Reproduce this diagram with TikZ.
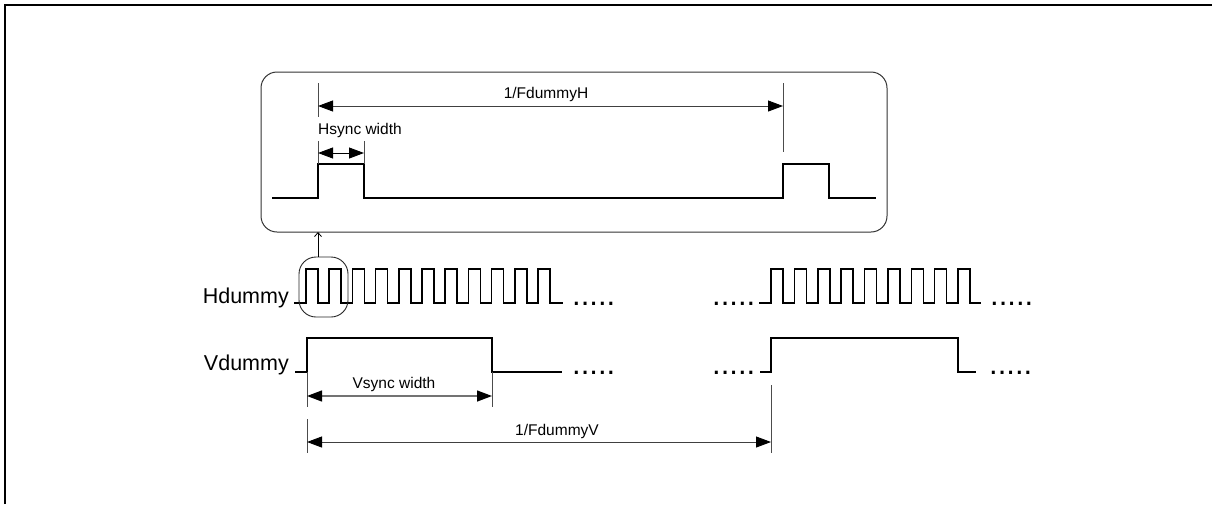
\documentclass[tikz,border=0pt]{standalone}
\usepackage{fontspec}
\setmainfont{Liberation Sans}
\usetikzlibrary{arrows.meta}
\begin{document}
\begin{tikzpicture}[x=1pt,y=-1pt,
  wave/.style={line width=1.5pt,black},
  dimline/.style={line width=0.9pt,black!75},
  extline/.style={line width=0.9pt,black!70},
  dimarrow/.style={dimline,{Triangle[length=15pt,width=11pt,color=black]}-{Triangle[length=15pt,width=11pt,color=black]}},
  lbl/.style={font=\fontsize{15.5}{18}\selectfont,inner sep=0pt},
  biglbl/.style={font=\fontsize{21.5}{25}\selectfont,inner sep=0pt},
  dots/.style={font=\fontsize{31}{34}\selectfont,inner sep=0pt,anchor=base west}]
\useasboundingbox (0,0) rectangle (1212,504);
% outer frame (only top and left visible)
\draw[line width=2.2pt] (5,504) -- (5,5) -- (1212,5);

% zoom box
\draw[line width=1pt,black!80,rounded corners=16pt] (261,72) rectangle (887,232);
\coordinate (zboxbot) at (318,232);

% top pulse
\draw[wave] (272,198) -- (318,198) -- (318,164) -- (364,164) -- (364,198)
  -- (783,198) -- (783,164) -- (829,164) -- (829,198) -- (876,198);

% 1/FdummyH
\coordinate (hA) at (318,106);
\coordinate (hB) at (783,106);
\draw[extline] (318,83) -- (318,117);
\draw[extline] (783,83) -- (783,152);
\draw[dimarrow] (hA) -- (hB);
\node[lbl,anchor=base] (fh) at (546,98) {1/FdummyH};

% Hsync width
\coordinate (hsA) at (318,153);
\coordinate (hsB) at (364,153);
\draw[extline] (318,141) -- (318,164);
\draw[extline] (364,141) -- (364,164);
\draw[dimarrow,black] (hsA) -- (hsB);
\node[lbl,anchor=base west] (hsw) at (318,134) {Hsync width};

% Hdummy
\node[biglbl,anchor=base east] (hd) at (289,303) {Hdummy};
\draw[wave] (294,303) foreach \k in {0,...,10} { -- ({306+23.2*\k},303) -- ++(0,-34) -- ++(12,0) -- ++(0,34) } -- (563,303);
\node[dots] (hdots1) at (572,305) {.....};
\node[dots] (hdots2) at (712,305) {.....};
\draw[wave] (759,303) foreach \k in {0,...,8} { -- ({771+23.375*\k},303) -- ++(0,-34) -- ++(12,0) -- ++(0,34) } -- (981,303);
\node[dots] (hdots3) at (990,305) {.....};

% circle around first pulses
\draw[line width=0.9pt,black!85,rounded corners=17pt] (299,257) rectangle (348,317);
\coordinate (circtop) at (318,257);
\draw[line width=0.8pt,-{Straight Barb[length=4pt,width=7pt]}] (circtop) -- (zboxbot);

% Vdummy
\node[biglbl,anchor=base east] (vd) at (289,370) {Vdummy};
\draw[wave] (295,372) -- (307,372) -- (307,338) -- (492,338) -- (492,372) -- (562,372);
\node[dots] (vdots1) at (572,374) {.....};
\node[dots] (vdots2) at (712,374) {.....};
\draw[wave] (760,372) -- (771,372) -- (771,338) -- (958,338) -- (958,372) -- (976,372);
\node[dots] (vdots3) at (989,374) {.....};

% Vsync width
\coordinate (vsA) at (307,396);
\coordinate (vsB) at (492,396);
\draw[extline] (307,372) -- (307,407);
\draw[extline] (492,372) -- (492,407);
\draw[dimarrow,line width=1.3pt,black!55] (vsA) -- (vsB);
\node[lbl,anchor=base] (vsw) at (394,388) {Vsync width};

% 1/FdummyV
\coordinate (fvA) at (307,442);
\coordinate (fvB) at (771,442);
\draw[extline] (307,419) -- (307,453);
\draw[extline] (771,385) -- (771,453);
\draw[dimarrow] (fvA) -- (fvB);
\node[lbl,anchor=base] (fv) at (557,435) {1/FdummyV};
\end{tikzpicture}
\end{document}
